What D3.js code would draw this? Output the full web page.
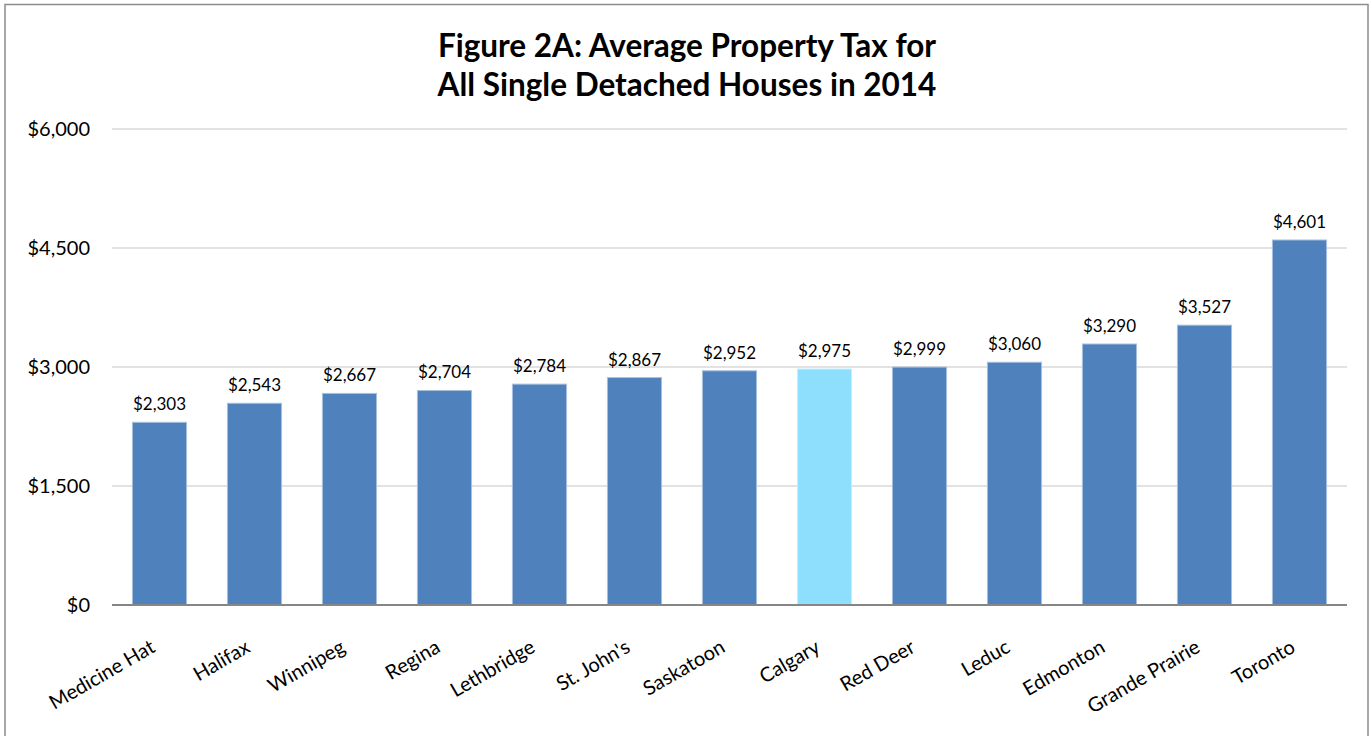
<!DOCTYPE html>
<html>
<head>
<meta charset="utf-8">
<script src="https://cdn.jsdelivr.net/npm/d3@7"></script>
<style>
  body { margin: 0; background: #fff; }
  svg { display: block; font-family: Lato, "Open Sans", sans-serif; }
</style>
</head>
<body>
<svg id="chart" width="1371" height="736"></svg>
<script>
var cities = ["Medicine Hat", "Halifax", "Winnipeg", "Regina", "Lethbridge", "St. John's",
              "Saskatoon", "Calgary", "Red Deer", "Leduc", "Edmonton", "Grande Prairie", "Toronto"];
var taxes = [2303, 2543, 2667, 2704, 2784, 2867, 2952, 2975, 2999, 3060, 3290, 3527, 4601];
var yTicks = [0, 1500, 3000, 4500, 6000];
var highlight = "Calgary";

var svg = d3.select("#chart");
var margin = {left: 112, right: 24, top: 129, bottom: 131};
var W = 1371, H = 736;

// outer frame
svg.append("rect")
    .attr("x", 5).attr("y", 4.5)
    .attr("width", 1363).attr("height", 760)
    .attr("fill", "none").attr("stroke", "#8c8c8c").attr("stroke-width", 1.5);

var x = d3.scaleBand()
    .domain(cities)
    .range([margin.left, W - margin.right])
    .paddingInner(0.43).paddingOuter(0.215);

var y = d3.scaleLinear().domain([0, 6000]).range([H - margin.bottom, margin.top]);

// gridlines
svg.append("g").selectAll("line")
    .data(yTicks.slice(1))
    .enter().append("line")
    .attr("x1", margin.left).attr("x2", W - margin.right)
    .attr("y1", function(d){ return y(d); }).attr("y2", function(d){ return y(d); })
    .attr("stroke", "#d9d9d9").attr("stroke-width", 1.5);

// y labels
var fmt = function(d){ return "$" + d3.format(",")(d); };
svg.append("g").selectAll("text")
    .data(yTicks)
    .enter().append("text")
    .attr("x", 90).attr("y", function(d){ return y(d) + 7; })
    .attr("text-anchor", "end")
    .attr("font-size", "20px").attr("fill", "#000")
    .text(fmt);

// bars
svg.append("g").selectAll("rect")
    .data(cities)
    .enter().append("rect")
    .attr("x", function(d){ return x(d); })
    .attr("y", function(d, i){ return y(taxes[i]); })
    .attr("width", x.bandwidth())
    .attr("height", function(d, i){ return y(0) - y(taxes[i]); })
    .attr("fill", function(d){ return d == highlight ? "#8ddffd" : "#4f81bd"; })
    .attr("stroke", function(d){ return d == highlight ? "#c6efff" : "#a7c0de"; })
    .attr("stroke-width", 1);

// value labels
svg.append("g").selectAll("text")
    .data(cities)
    .enter().append("text")
    .attr("x", function(d){ return x(d) + x.bandwidth() / 2; })
    .attr("y", function(d, i){ return y(taxes[i]) - 12; })
    .attr("text-anchor", "middle")
    .attr("font-size", "17px").attr("fill", "#000")
    .text(function(d, i){ return fmt(taxes[i]); });

// x axis line
svg.append("line")
    .attr("x1", margin.left).attr("x2", W - margin.right)
    .attr("y1", y(0)).attr("y2", y(0))
    .attr("stroke", "#868686").attr("stroke-width", 2);

// category labels, rotated
svg.append("g").selectAll("text")
    .data(cities)
    .enter().append("text")
    .attr("text-anchor", "end")
    .attr("font-size", "20px").attr("fill", "#000")
    .attr("transform", function(d){
        var cx = x(d) + x.bandwidth() / 2 - 3;
        return "translate(" + cx + "," + (y(0) + 46) + ") rotate(-30)";
    })
    .text(function(d){ return d; });

// title
var title = svg.append("text")
    .attr("text-anchor", "middle")
    .attr("font-size", "31.5px").attr("font-weight", "bold").attr("fill", "#000");
title.append("tspan").attr("x", 687).attr("y", 57).text("Figure 2A: Average Property Tax for");
title.append("tspan").attr("x", 687).attr("y", 96).text("All Single Detached Houses in 2014");
</script>
</body>
</html>
